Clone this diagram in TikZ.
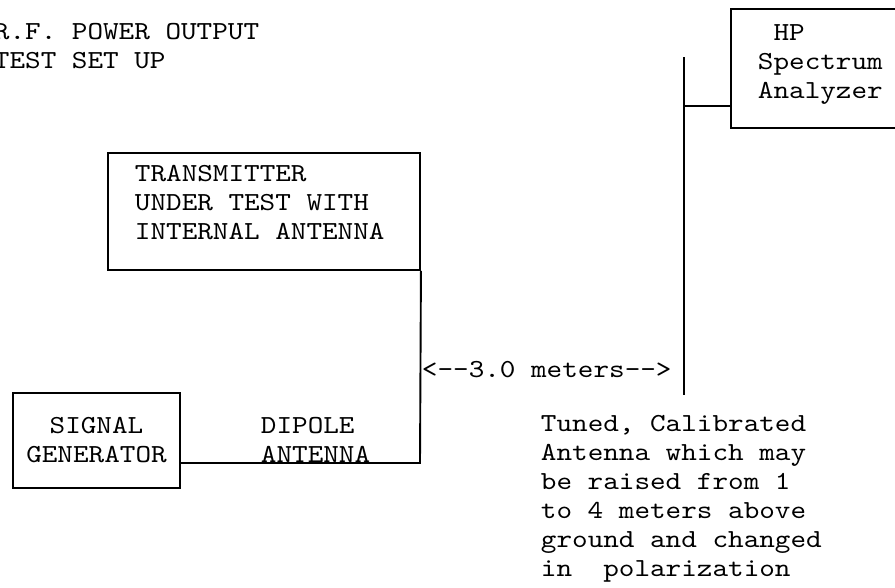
\documentclass[tikz,border=0pt]{standalone}
\usepackage{fontspec}
\setmonofont{lmmono10-regular}[Extension=.otf, FakeStretch=1.143]
\usetikzlibrary{positioning}

\begin{document}
\begin{tikzpicture}[x=1pt, y=-1pt, line width=1.9pt,
    every node/.style={font=\ttfamily\fontsize{26}{29}\selectfont, inner sep=0pt},
    box/.style={draw, rectangle, fill=none},
    lbl/.style={anchor=base west, align=left}]
    \useasboundingbox (0,0) rectangle (895,587);
    % title (base anchor sits on the last line)
    \node[lbl] (title) at (-7,68) {R.F. POWER OUTPUT\\TEST SET UP};
    % boxes
    \node[box, minimum width=312, minimum height=117] (tx) at (264,211.5) {};
    \node[box, minimum width=167, minimum height=95] (sig) at (96.5,440.5) {};
    \node[box, minimum width=180, minimum height=119] (hp) at (821,68.5) {};
    % box texts
    \node[lbl] (txtxt) at (134,239) {TRANSMITTER\\UNDER TEST WITH\\INTERNAL ANTENNA};
    \node[anchor=base, align=center] (sigtxt) at (96.5,462) {SIGNAL\\GENERATOR};
    \node[lbl] (hptxt) at (757,98) {~HP\\Spectrum\\Analyzer};
    % dipole antenna feed
    \coordinate (dip) at (420,463);
    \draw (sig.east |- dip) -- (dip) -- (tx.south east);
    \node[lbl] (diptxt) at (260,462) {DIPOLE\\ANTENNA};
    % receiving antenna mast
    \coordinate (mtop) at (684,57);
    \coordinate (mbot) at (684,395);
    \coordinate (hpin) at (hp.west |- 0,106);
    \draw (mtop) -- (mbot);
    \draw (mtop |- hpin) -- (hpin);
    % distance
    \node[anchor=base west] (dist) at (421,377) {<-{}-3.0 meters-{}->};
    % notes
    \node[lbl] (note) at (540,576) {Tuned, Calibrated\\Antenna which may\\be raised from 1\\to 4 meters above\\ground and changed\\in~~polarization};
\end{tikzpicture}
\end{document}
